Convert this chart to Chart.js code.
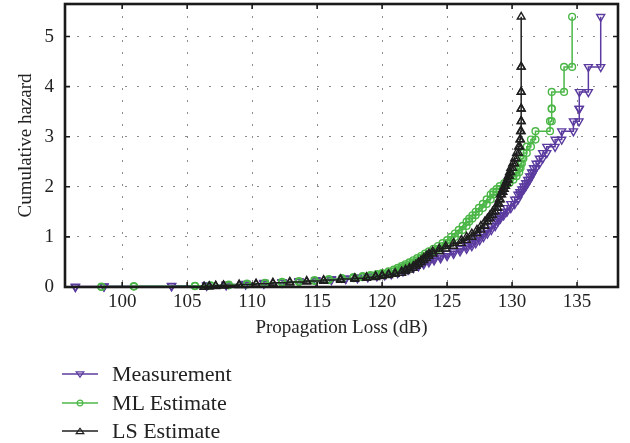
<!DOCTYPE html>
<html><head><meta charset="utf-8">
<script src="https://cdn.jsdelivr.net/npm/chart.js@4.4.1/dist/chart.umd.min.js"></script>
<style>
html,body{margin:0;padding:0;background:#fff;}
#wrap{position:relative;width:630px;height:443px;overflow:hidden;}
#c{position:absolute;left:0;top:0;}
.row{position:absolute;left:62px;height:26px;display:flex;align-items:center;white-space:nowrap;font-family:"Liberation Serif","Times New Roman",serif;font-size:22px;color:#222;}
.row svg{margin-right:14px;}
</style></head>
<body><div id="wrap"><canvas id="c" width="630" height="443"></canvas><div id="legend"></div></div>
<script>
// Cumulative hazard levels (shared by all series, one per plotted rank)
const hazard = [0.008,0.016,0.025,0.033,0.050,0.067,0.085,0.102,0.120,0.139,0.158,0.177,0.196,0.216,0.236,0.257,0.278,0.311,0.345,0.380,0.416,0.453,0.492,0.533,0.575,0.619,0.665,0.714,0.764,0.818,0.875,0.935,0.999,1.067,1.140,1.219,1.305,1.366,1.432,1.502,1.578,1.659,1.748,1.846,1.898,1.954,2.013,2.075,2.142,2.213,2.290,2.374,2.465,2.565,2.676,2.801,2.944,3.110,3.310,3.560,3.894,4.394,5.394];
// Propagation loss (dB) at each level
const measurementLoss = [96.4,98.6,103.8,106.5,108.0,109.5,110.9,112.3,113.6,114.9,116.1,117.2,118.1,118.9,119.6,120.2,120.7,121.2,121.6,122.0,122.4,122.8,123.2,123.6,124.0,124.5,125.0,125.5,126.0,126.5,126.9,127.2,127.5,127.8,128.1,128.4,128.7,128.9,129.1,129.35,129.6,129.9,130.2,130.45,130.6,130.75,130.9,131.05,131.2,131.35,131.5,131.65,131.85,132.1,132.35,132.67,133.31,133.82,134.72,135.15,135.18,135.87,136.82];
const mlLoss = [98.4,100.9,105.6,106.8,108.2,109.6,111.0,112.3,113.6,114.8,115.9,116.9,117.8,118.5,119.1,119.6,120.0,120.5,120.9,121.2,121.5,121.8,122.1,122.4,122.7,123.0,123.3,123.6,123.95,124.3,124.65,125.0,125.3,125.6,125.9,126.2,126.5,126.7,126.95,127.2,127.45,127.75,128.05,128.35,128.55,128.8,129.05,129.4,129.8,130.1,130.35,130.55,130.65,130.75,130.87,131.13,131.45,131.8,132.92,133.05,133.05,134.0,134.62];
const lsLoss = [106.3,106.7,107.2,107.8,109.0,110.3,111.6,112.9,114.2,115.5,116.8,117.9,118.8,119.5,120.0,120.5,121.0,121.5,121.8,122.1,122.4,122.6,122.8,123.0,123.2,123.4,123.6,123.9,124.4,124.9,125.5,126.1,126.5,126.9,127.3,127.6,127.9,128.1,128.3,128.5,128.7,128.9,129.0,129.1,129.2,129.3,129.4,129.5,129.6,129.7,129.8,129.9,130.05,130.2,130.35,130.5,130.6,130.65,130.7,130.7,130.7,130.7,130.7];
const xTicks = [100,105,110,115,120,125,130,135];
const yTicks = [0,1,2,3,4,5];
const seriesNames = ['Measurement','ML Estimate','LS Estimate'];
const xTitle = 'Propagation Loss (dB)';
const yTitle = 'Cumulative hazard';

const PURPLE = '#5b3b9f', GREEN = '#4cb748', BLACK = '#1e1e1e';
const FONT = {family: '"Liberation Serif", "Times New Roman", serif', size: 19};

function stairs(xs) {
  const pts = [];
  xs.forEach((x, i) => {
    pts.push({x: x, y: i ? hazard[i - 1] : 0});
    pts.push({x: x, y: hazard[i]});
  });
  return pts;
}

const styles = [
  {color: PURPLE, style: 'triangle', rot: 180, r: 4.6, order: 3},
  {color: GREEN, style: 'circle', rot: 0, r: 3.4, order: 2},
  {color: BLACK, style: 'triangle', rot: 0, r: 4.5, order: 1}
];
const series = [measurementLoss, mlLoss, lsLoss];

const datasets = series.map((xs, k) => ({
  label: seriesNames[k],
  data: stairs(xs),
  borderColor: styles[k].color,
  backgroundColor: 'rgba(0,0,0,0)',
  borderWidth: 1.5,
  pointStyle: styles[k].style,
  pointRotation: styles[k].rot,
  pointRadius: styles[k].r,
  pointBorderWidth: 1.4,
  pointBorderColor: styles[k].color,
  pointBackgroundColor: 'rgba(0,0,0,0)',
  tension: 0,
  clip: false,
  order: styles[k].order
}));

const frame = {
  id: 'frame',
  afterDatasetsDraw(chart) {
    const {ctx, chartArea: a, scales} = chart;
    ctx.save();
    ctx.strokeStyle = '#1a1a1a';
    ctx.lineWidth = 1.6;
    const L = 5;
    xTicks.forEach(v => {
      const px = scales.x.getPixelForValue(v);
      ctx.beginPath();
      ctx.moveTo(px, a.bottom); ctx.lineTo(px, a.bottom - L);
      ctx.moveTo(px, a.top); ctx.lineTo(px, a.top + L);
      ctx.stroke();
    });
    yTicks.forEach(v => {
      const py = scales.y.getPixelForValue(v);
      ctx.beginPath();
      ctx.moveTo(a.left, py); ctx.lineTo(a.left + L, py);
      ctx.moveTo(a.right, py); ctx.lineTo(a.right - L, py);
      ctx.stroke();
    });
    ctx.lineWidth = 2.6;
    ctx.strokeRect(a.left, a.top, a.right - a.left, a.bottom - a.top);
    ctx.restore();
  }
};

new Chart(document.getElementById('c'), {
  type: 'line',
  data: {datasets},
  plugins: [frame],
  options: {
    responsive: false,
    animation: false,
    devicePixelRatio: 1,
    layout: {autoPadding: false, padding: {top: 4, right: 12, bottom: 104, left: 0}},
    plugins: {legend: {display: false}, tooltip: {enabled: false}},
    scales: {
      x: {
        type: 'linear', min: 95.6, max: 138.15,
        afterBuildTicks: s => { s.ticks = xTicks.map(v => ({value: v})); },
        afterFit: s => { s.height = 52; s.paddingLeft = 0; s.paddingRight = 0; },
        ticks: {font: FONT, color: '#222', padding: 4, maxRotation: 0, autoSkip: false},
        grid: {color: '#8c8c8c', lineWidth: 1, drawTicks: false},
        border: {display: false, dash: [2, 10]},
        title: {display: true, text: xTitle, font: FONT, color: '#222', padding: {top: 0, bottom: 0}}
      },
      y: {
        type: 'linear', min: 0, max: 5.65,
        afterBuildTicks: s => { s.ticks = yTicks.map(v => ({value: v})); },
        afterFit: s => { s.width = 65; s.paddingTop = 0; s.paddingBottom = 0; },
        ticks: {font: FONT, color: '#222', padding: 11},
        grid: {color: '#8c8c8c', lineWidth: 1, drawTicks: false},
        border: {display: false, dash: [2, 10]},
        title: {display: true, text: yTitle, font: FONT, color: '#222', padding: {top: 15, bottom: 0}}
      }
    }
  }
});

// legend
const legend = document.getElementById('legend');
const rowsY = [374, 402.5, 431];
seriesNames.forEach((name, k) => {
  const st = styles[k];
  let marker;
  if (st.style === 'circle') {
    marker = `<circle cx="18" cy="6" r="2.8" fill="none" stroke="${st.color}" stroke-width="1.2"/>`;
  } else if (st.rot === 180) {
    marker = `<polygon points="14.2,3.8 21.8,3.8 18,9.2" fill="none" stroke="${st.color}" stroke-width="1.2"/>`;
  } else {
    marker = `<polygon points="14.2,8.6 21.8,8.6 18,3.2" fill="none" stroke="${st.color}" stroke-width="1.2"/>`;
  }
  const row = document.createElement('div');
  row.className = 'row';
  row.style.top = (rowsY[k] - 13) + 'px';
  row.innerHTML = `<svg width="36" height="12" viewBox="0 0 36 12"><line x1="0" y1="6" x2="36" y2="6" stroke="${st.color}" stroke-width="1.3"/>${marker}</svg><span>${name}</span>`;
  legend.appendChild(row);
});
</script>
</body></html>
